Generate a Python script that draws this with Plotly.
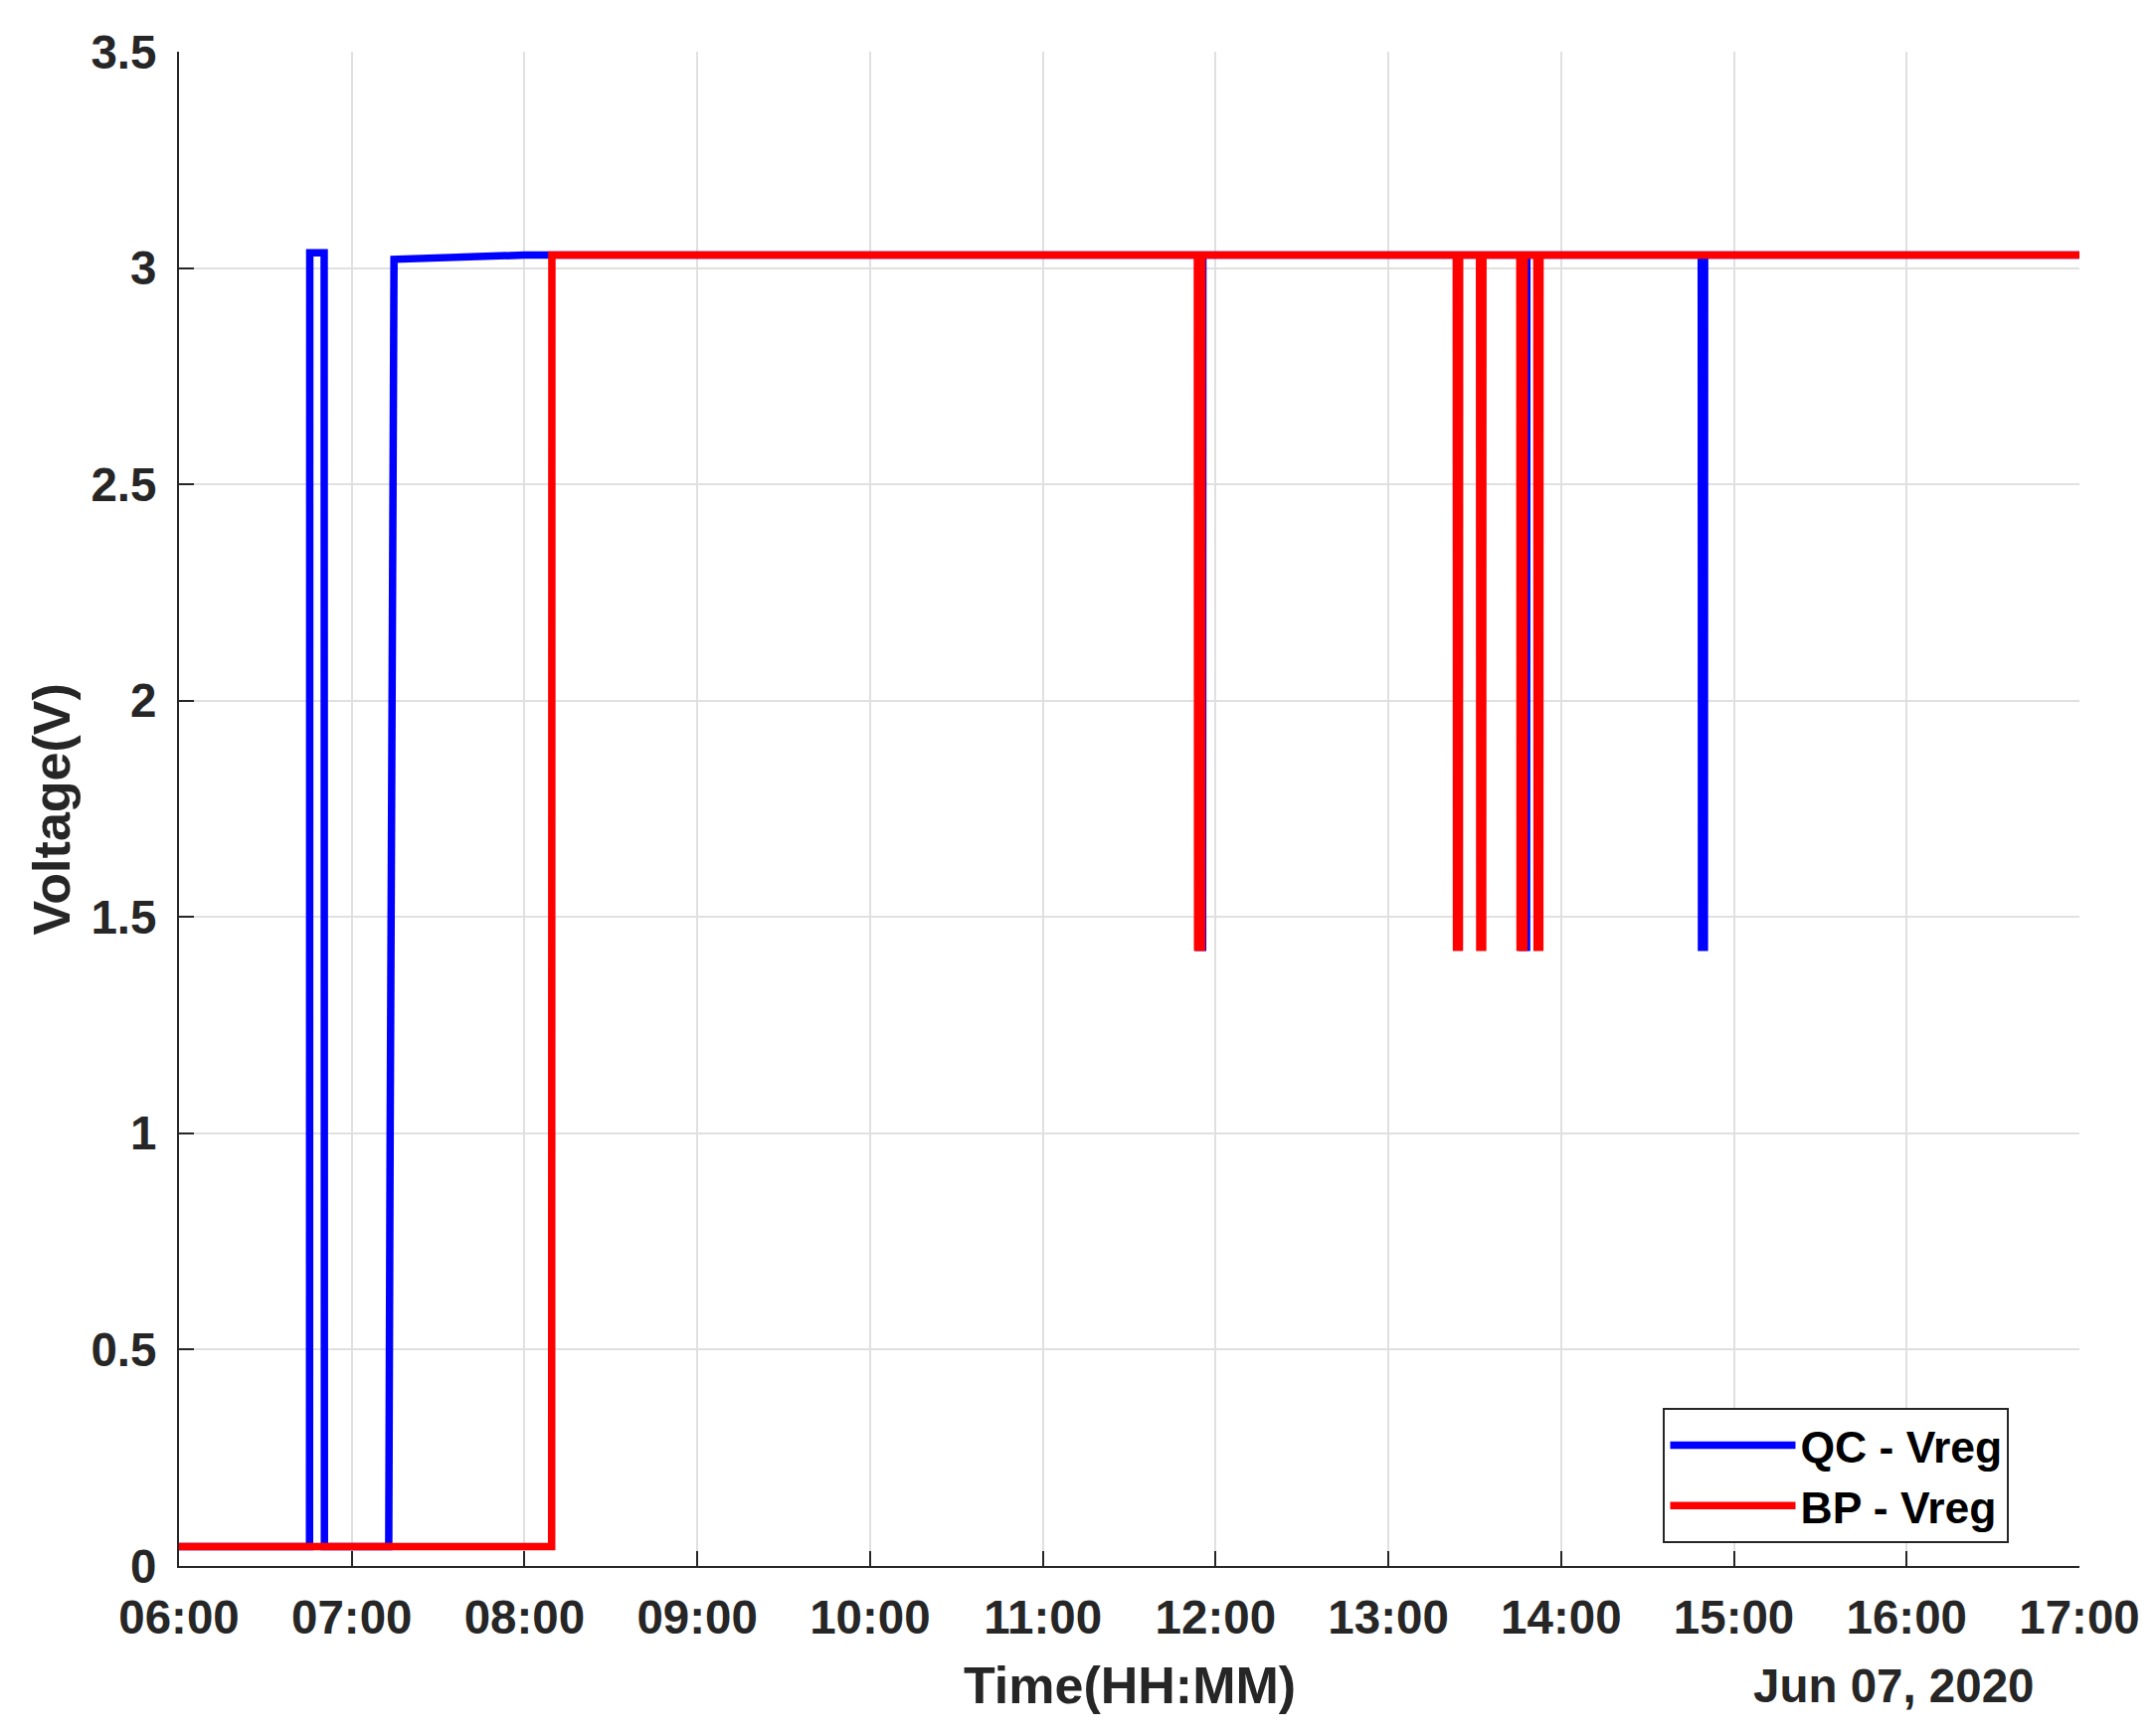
import plotly.graph_objects as go

DAY = "2020-06-07 "

# QC - Vreg (blue)
qc_times = [
    "06:00:00", "06:45:20", "06:45:25", "06:50:25", "06:50:30", "07:12:50",
    "07:13:20", "07:13:50", "07:14:20", "07:14:40", "08:00:00",
    "11:54:10", "11:54:15", "11:55:30", "11:55:35",
    "13:46:30", "13:46:35", "13:48:00", "13:48:05",
    "14:48:40", "14:48:45", "14:49:45", "14:49:50", "17:00:00",
]
qc_volts = [
    0.045, 0.045, 3.035, 3.035, 0.045, 0.045,
    1.0, 2.0, 2.9, 3.02, 3.03,
    3.03, 1.43, 1.43, 3.03,
    3.03, 1.43, 1.43, 3.03,
    3.03, 1.43, 1.43, 3.03, 3.03,
]

# BP - Vreg (red)
bp_times = [
    "06:00:00", "08:09:25", "08:09:30",
    "11:53:40", "11:53:45", "11:55:10", "11:55:15",
    "13:23:35", "13:23:40", "13:24:40", "13:24:45",
    "13:31:40", "13:31:45", "13:32:45", "13:32:50",
    "13:45:40", "13:45:45", "13:47:05", "13:47:10",
    "13:51:35", "13:51:40", "13:52:35", "13:52:40", "17:00:00",
]
bp_volts = [
    0.045, 0.045, 3.03,
    3.03, 1.43, 1.43, 3.03,
    3.03, 1.43, 1.43, 3.03,
    3.03, 1.43, 1.43, 3.03,
    3.03, 1.43, 1.43, 3.03,
    3.03, 1.43, 1.43, 3.03, 3.03,
]

y_ticks = [0, 0.5, 1, 1.5, 2, 2.5, 3, 3.5]
y_ticktext = ["0", "0.5", "1", "1.5", "2", "2.5", "3", "3.5"]

FONT = "Liberation Sans, Arial, sans-serif"
INK = "#262626"

fig = go.Figure()
fig.add_trace(go.Scatter(
    x=[DAY + t for t in qc_times], y=qc_volts, mode="lines", name="QC - Vreg",
    line=dict(color="#0000ff", width=7.5),
))
fig.add_trace(go.Scatter(
    x=[DAY + t for t in bp_times], y=bp_volts, mode="lines", name="BP - Vreg",
    line=dict(color="#ff0000", width=7.5),
))

# no box: top and right edges are just the outer grid lines
axis_common = dict(
    showline=True, linecolor=INK, linewidth=2, mirror=False,
    ticks="inside", ticklen=15, tickwidth=2, tickcolor=INK,
    showgrid=True, gridcolor="#e0e0e0", gridwidth=1.5,
    zeroline=False,
    tickfont=dict(family=FONT, size=47.5, color=INK, weight="bold"),
)

fig.update_layout(
    width=2168, height=1746,
    paper_bgcolor="white", plot_bgcolor="white",
    margin=dict(l=172, r=85, t=44, b=179),
    showlegend=True,
    legend=dict(
        x=0.781, y=0.1044, xanchor="left", yanchor="top",
        bgcolor="white", bordercolor=INK, borderwidth=2,
        font=dict(family=FONT, size=44.5, color="black", weight="bold"),
        itemwidth=126, tracegroupgap=0,
    ),
    xaxis=dict(
        **axis_common,
        type="date",
        range=[DAY + "06:00:00", DAY + "17:00:00"],
        dtick=3600000, tickformat="%H:%M",
        ticklabelstandoff=9,
    ),
    yaxis=dict(
        **axis_common,
        range=[0, 3.5],
        tickvals=y_ticks, ticktext=y_ticktext,
        ticklabelstandoff=11,
    ),
    annotations=[
        dict(text="Time(HH:MM)", xref="paper", yref="paper", x=0.5, y=-0.0788,
             xanchor="center", yanchor="middle", showarrow=False,
             font=dict(family=FONT, size=52, color=INK, weight="bold")),
        dict(text="Jun 07, 2020", xref="paper", yref="paper", x=0.9775, y=-0.0788,
             xanchor="right", yanchor="middle", showarrow=False,
             font=dict(family=FONT, size=47.5, color=INK, weight="bold")),
        dict(text="Voltage(V)", xref="paper", yref="paper", x=-0.067, y=0.5,
             xanchor="center", yanchor="middle", showarrow=False, textangle=-90,
             font=dict(family=FONT, size=52, color=INK, weight="bold")),
    ],
)

fig.write_html("out.html")
